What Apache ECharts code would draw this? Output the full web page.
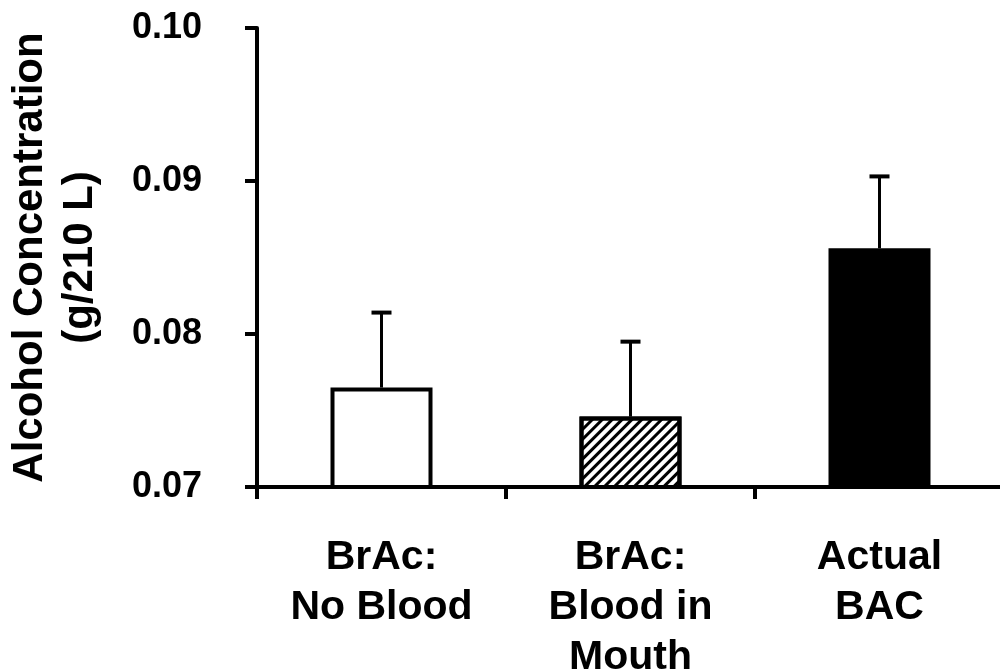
<!DOCTYPE html>
<html>
<head>
<meta charset="utf-8">
<script src="https://cdn.jsdelivr.net/npm/echarts@6/dist/echarts.min.js"></script>
<style>
html,body{margin:0;padding:0;background:#fff;}
#chart{width:1000px;height:669px;}
</style>
</head>
<body>
<div id="chart"></div>
<script>
const categories = ['BrAc:\nNo Blood', 'BrAc:\nBlood in\nMouth', 'Actual\nBAC'];
const means = [0.0765, 0.0746, 0.0856];
const errors = [0.0049, 0.0049, 0.0047];
const yTicks = { min: 0.07, max: 0.10, interval: 0.01 };
const yTitle = 'Alcohol Concentration\n(g/210 L)';

const FONT = '"Liberation Sans", Arial, sans-serif';

const barData = means.map((v, i) => {
  const item = { value: v, itemStyle: { borderColor: '#000', borderWidth: 4 } };
  if (i === 0) item.itemStyle.color = '#fff';
  if (i === 1) {
    item.itemStyle.color = '#fff';
    item.itemStyle.decal = {
      symbol: 'rect', color: '#000',
      dashArrayX: [1, 0], dashArrayY: [3, 3.5],
      rotation: -Math.PI / 4, symbolSize: 1
    };
  }
  if (i === 2) item.itemStyle.color = '#000';
  return item;
});

const errData = means.map((v, i) => [i, v, v + errors[i]]);

const chart = echarts.init(document.getElementById('chart'), null, { renderer: 'canvas' });
chart.setOption({
  animation: false,
  backgroundColor: '#fff',
  grid: { left: 257, right: -4, top: 28, bottom: 182, containLabel: false, outerBoundsMode: 'none' },
  xAxis: {
    type: 'category',
    data: categories,
    axisLine: { lineStyle: { color: '#000', width: 4 } },
    axisTick: { show: true, length: 12, interval: 0, lineStyle: { color: '#000', width: 4 } },
    axisLabel: {
      interval: 0, margin: 46, color: '#000',
      fontFamily: FONT, fontWeight: 'bold', fontSize: 41, lineHeight: 50
    },
    splitLine: { show: false }
  },
  yAxis: {
    type: 'value',
    min: yTicks.min, max: yTicks.max, interval: yTicks.interval,
    name: yTitle,
    nameLocation: 'middle',
    nameRotate: 90,
    nameGap: 152,
    nameTextStyle: { color: '#000', fontFamily: FONT, fontWeight: 'bold', fontSize: 42, lineHeight: 50 },
    axisLine: { show: true, lineStyle: { color: '#000', width: 4 } },
    axisTick: { show: true, length: 12, lineStyle: { color: '#000', width: 4 } },
    axisLabel: {
      margin: 55, color: '#000', fontFamily: FONT, fontWeight: 'bold', fontSize: 36,
      formatter: v => v.toFixed(2)
    },
    splitLine: { show: false }
  },
  series: [
    {
      type: 'bar',
      data: barData,
      barWidth: 102,
      z: 2
    },
    {
      type: 'custom',
      data: errData,
      z: 5,
      renderItem: function (params, api) {
        const x = api.value(0);
        const lo = api.coord([x, api.value(1)]);
        const hi = api.coord([x, api.value(2)]);
        const half = 10;
        return {
          type: 'group',
          children: [
            { type: 'line', shape: { x1: lo[0], y1: lo[1], x2: hi[0], y2: hi[1] },
              style: { stroke: '#000', lineWidth: 3 } },
            { type: 'line', shape: { x1: hi[0] - half, y1: hi[1], x2: hi[0] + half, y2: hi[1] },
              style: { stroke: '#000', lineWidth: 4 } }
          ]
        };
      }
    }
  ]
});
</script>
</body>
</html>
